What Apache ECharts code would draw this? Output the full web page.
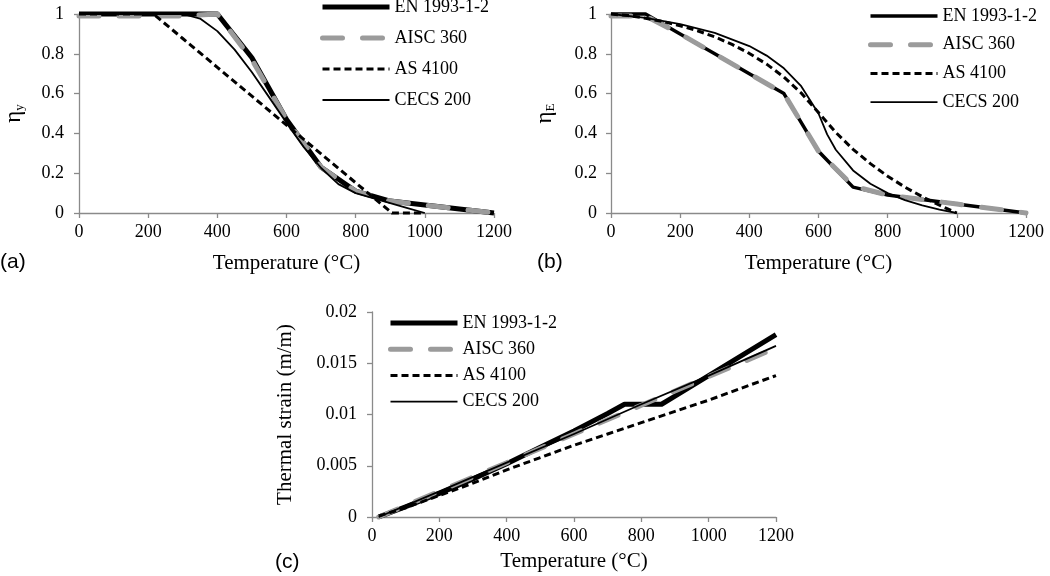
<!DOCTYPE html>
<html><head><meta charset="utf-8">
<script src="https://cdn.jsdelivr.net/npm/echarts@6/dist/echarts.min.js"></script>
<style>html,body{margin:0;padding:0;background:#fff}#c{width:1050px;height:576px}</style>
</head><body><div id="c"></div>
<script>
// ---- names ----
const seriesNames = ['EN 1993-1-2', 'AISC 360', 'AS 4100', 'CECS 200'];
const panelLabels = ['(a)', '(b)', '(c)'];
const xAxisName = 'Temperature (°C)';
const yNameC = 'Thermal strain (m/m)';

// ---- panel (a): eta_y ----
const a_EN_T   = [0, 100, 200, 300, 400, 500, 600, 700, 800, 900, 1000, 1100, 1200];
const a_EN_V   = [1, 1, 1, 1, 1, 0.78, 0.47, 0.23, 0.11, 0.06, 0.04, 0.02, 0];
const a_AISC_T = [0, 100, 200, 300, 400, 500, 600, 700, 800, 900, 1000, 1100, 1200];
const a_AISC_V = [0.99, 0.99, 0.99, 0.99, 1, 0.77, 0.47, 0.23, 0.11, 0.06, 0.04, 0.02, 0];
const a_AS_T   = [0, 215, 300, 400, 500, 600, 700, 800, 905, 1000];
const a_AS_V   = [1, 1, 0.877, 0.732, 0.587, 0.442, 0.297, 0.152, 0, 0];
const a_CECS_T = [0, 300, 350, 400, 450, 500, 550, 600, 650, 700, 750, 800, 850, 900, 950, 1000];
const a_CECS_V = [1, 1, 0.977, 0.914, 0.821, 0.707, 0.581, 0.453, 0.331, 0.226, 0.145, 0.1, 0.075, 0.05, 0.025, 0];

// ---- panel (b): eta_E ----
const b_EN_T   = [0, 100, 200, 300, 400, 500, 600, 700, 800, 900, 1000, 1100, 1200];
const b_EN_V   = [1, 1, 0.9, 0.8, 0.7, 0.6, 0.31, 0.13, 0.09, 0.0675, 0.045, 0.0225, 0];
const b_AISC_T = [0, 100, 200, 300, 400, 500, 600, 700, 800, 900, 1000, 1100, 1200];
const b_AISC_V = [0.99, 0.99, 0.9, 0.8, 0.7, 0.6, 0.31, 0.135, 0.09, 0.0675, 0.045, 0.0225, 0];
const b_AS_T   = [0, 50, 100, 150, 200, 250, 300, 350, 400, 450, 500, 550, 600, 650, 700, 750, 800, 850, 900, 950, 1000];
const b_AS_V   = [1, 0.992, 0.979, 0.962, 0.941, 0.916, 0.885, 0.847, 0.802, 0.748, 0.683, 0.603, 0.505, 0.405, 0.32, 0.248, 0.185, 0.13, 0.082, 0.039, 0];
const b_CECS_T = [0, 100, 200, 300, 400, 450, 500, 550, 600, 625, 650, 700, 750, 800, 850, 900, 950, 1000];
const b_CECS_V = [1, 0.981, 0.949, 0.905, 0.839, 0.791, 0.727, 0.637, 0.5, 0.395, 0.318, 0.214, 0.147, 0.1, 0.065, 0.038, 0.017, 0];

// ---- panel (c): thermal strain ----
const c_EN_T   = [20, 100, 200, 300, 400, 500, 600, 700, 750, 860, 900, 1000, 1100, 1200];
const c_EN_V   = [0, 0.001, 0.0023, 0.0037, 0.0052, 0.0068, 0.0084, 0.0101, 0.011, 0.011, 0.0118, 0.0138, 0.0158, 0.0178];
const c_AISC_T = [20, 200, 400, 600, 800, 1000, 1200];
const c_AISC_V = [0, 0.0025, 0.0053, 0.0081, 0.0109, 0.0137, 0.0165];
const c_AS_T   = [20, 100, 200, 300, 400, 500, 600, 700, 800, 900, 1000, 1100, 1200];
const c_AS_V   = [0.0001, 0.0009, 0.0021, 0.0033, 0.0046, 0.0058, 0.007, 0.0081, 0.0092, 0.0103, 0.0114, 0.0126, 0.0138];
const c_CECS_T = [20, 200, 400, 600, 800, 1000, 1200];
const c_CECS_V = [0, 0.0025, 0.0053, 0.0081, 0.011, 0.0138, 0.0167];

// ---- build ----
const zip = (t, v) => t.map((x, i) => [x, v[i]]);
const panels = [
  [[a_EN_T, a_EN_V], [a_AISC_T, a_AISC_V], [a_AS_T, a_AS_V], [a_CECS_T, a_CECS_V]],
  [[b_EN_T, b_EN_V], [b_AISC_T, b_AISC_V], [b_AS_T, b_AS_V], [b_CECS_T, b_CECS_V]],
  [[c_EN_T, c_EN_V], [c_AISC_T, c_AISC_V], [c_AS_T, c_AS_V], [c_CECS_T, c_CECS_V]]
];
const styleFor = (k, p) => [
  {color: '#000', width: p === 1 ? 3.5 : 5, type: 'solid', cap: 'butt'},
  {color: '#9b9b9b', width: 5, type: [20, 20], cap: 'round'},
  {color: '#000', width: 3, type: [7, 4], cap: 'butt'},
  {color: '#000', width: 1.8, type: 'solid', cap: 'butt'}
][k];

const SERIF = 'Liberation Serif';
const axisCol = '#8a8a8a';
const fmt = v => String(+(+v).toFixed(6));
const grids = [
  {left: 73, top: 14, width: 421, height: 199},
  {left: 611, top: 14, width: 415, height: 199},
  {left: 372, top: 312, width: 404, height: 205}
];
const baseAxis = {
  axisLine: {show: true, onZero: false, lineStyle: {color: axisCol, width: 1.3}},
  axisTick: {show: true, inside: false, length: 5, lineStyle: {color: axisCol, width: 1.3}},
  splitLine: {show: false},
  axisLabel: {color: '#000', fontFamily: SERIF, fontSize: 18, formatter: fmt}
};
const xAxes = grids.map((g, i) => Object.assign({}, baseAxis, {
  type: 'value', gridIndex: i, min: 0, max: 1200, interval: 200,
  axisLabel: Object.assign({}, baseAxis.axisLabel, {margin: 10}),
  name: xAxisName, nameLocation: 'middle', nameGap: i === 2 ? 34 : 40,
  nameTextStyle: {color: '#000', fontFamily: SERIF, fontSize: 21}
}));
const etaRich = {
  e: {fontFamily: SERIF, fontSize: 23, color: '#000'},
  s: {fontFamily: SERIF, fontSize: 13, color: '#000', lineHeight: 13, padding: [12, 0, 0, 0]}
};
const yAxes = [
  Object.assign({}, baseAxis, {type: 'value', gridIndex: 0, min: 0, max: 1, interval: 0.2,
    axisLabel: Object.assign({}, baseAxis.axisLabel, {margin: 15}),
    name: '{e|η}{s|y}', nameLocation: 'middle', nameGap: 54, nameRotate: 90,
    nameTextStyle: {rich: etaRich}}),
  Object.assign({}, baseAxis, {type: 'value', gridIndex: 1, min: 0, max: 1, interval: 0.2,
    axisLabel: Object.assign({}, baseAxis.axisLabel, {margin: 14}),
    name: '{e|η}{s|E}', nameLocation: 'middle', nameGap: 55, nameRotate: 90,
    nameTextStyle: {rich: etaRich}}),
  Object.assign({}, baseAxis, {type: 'value', gridIndex: 2, min: 0, max: 0.02, interval: 0.005,
    axisLabel: Object.assign({}, baseAxis.axisLabel, {margin: 15}),
    name: yNameC, nameLocation: 'middle', nameGap: 76, nameRotate: 90,
    nameTextStyle: {color: '#000', fontFamily: SERIF, fontSize: 21}})
];
const series = [];
panels.forEach((pd, p) => {
  pd.forEach(([t, v], k) => {
    const st = styleFor(k, p);
    series.push({
      type: 'line', name: seriesNames[k], xAxisIndex: p, yAxisIndex: p,
      data: zip(t, v), symbol: 'none', showSymbol: false, clip: false,
      color: st.color, z: 2 + k,
      lineStyle: {color: st.color, width: st.width, type: st.type, cap: st.cap, join: 'round'}
    });
  });
});
const legendPos = [
  {left: 320, top: -2, itemGap: 13},
  {left: 868, top: 7, itemGap: 10.7},
  {left: 388, top: 314, itemGap: 8.2}
];
const legends = legendPos.map((lp, p) => ({
  orient: 'vertical', left: lp.left, top: lp.top, itemGap: lp.itemGap, padding: 0,
  itemWidth: 67, itemHeight: 17, selectedMode: false,
  textStyle: {color: '#000', fontFamily: SERIF, fontSize: 18},
  data: seriesNames.map((n, k) => {
    const st = styleFor(k, p);
    return {name: n,
      itemStyle: {opacity: 0, color: 'transparent', borderWidth: 0},
      lineStyle: {width: st.width, type: st.type, cap: st.cap, color: st.color, opacity: 1}};
  })
}));
const labelPos = [[0, 252], [537, 252], [275, 552]];
const graphic = panelLabels.map((t, i) => ({
  type: 'text', left: labelPos[i][0], top: labelPos[i][1],
  style: {text: t, fill: '#000', font: '21px "Liberation Sans"'}
}));

const chart = echarts.init(document.getElementById('c'), null, {renderer: 'canvas'});
chart.setOption({
  animation: false, backgroundColor: '#fff',
  grid: grids, xAxis: xAxes, yAxis: yAxes, series: series, legend: legends, graphic: graphic
});
</script></body></html>
